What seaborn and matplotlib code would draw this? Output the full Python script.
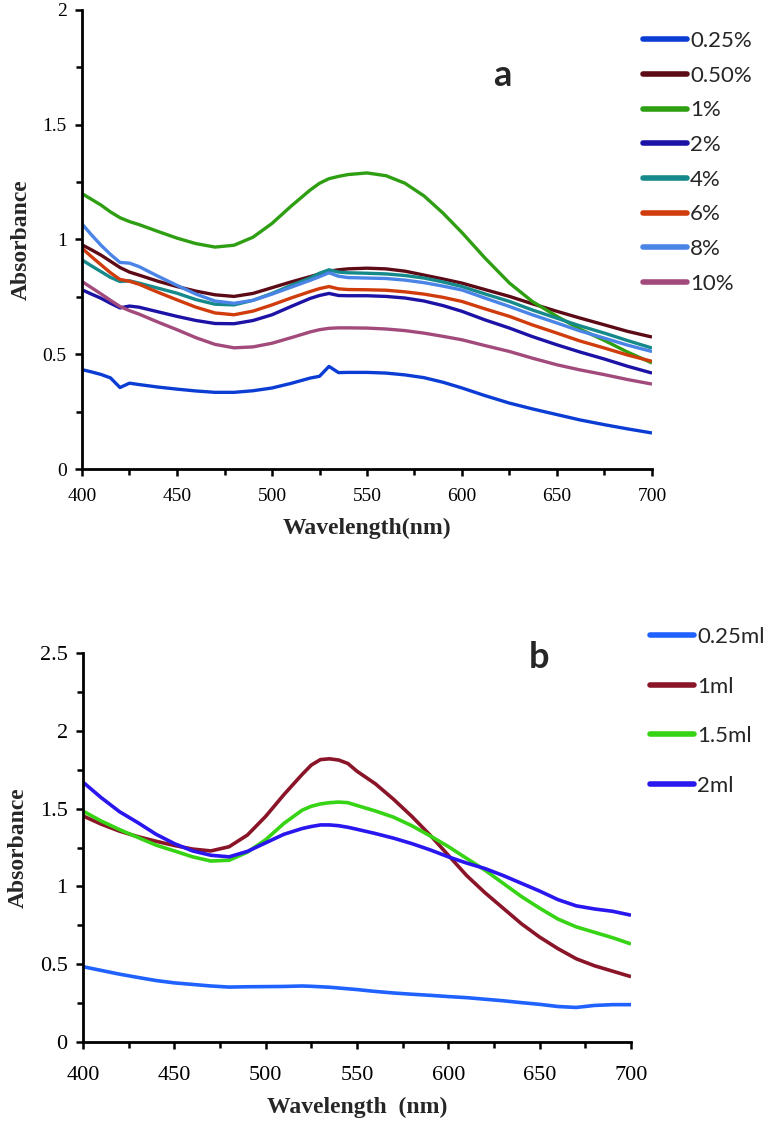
import numpy as np
import pandas as pd
import matplotlib
matplotlib.use("Agg")
import matplotlib.pyplot as plt
from matplotlib.ticker import MultipleLocator
import seaborn as sns

# ---------------- data: panel a ----------------
wl_a = [400, 405, 410, 415, 420, 425, 430, 440, 450, 460, 470, 480, 490, 500, 510, 520, 525,
        530, 535, 540, 550, 560, 570, 580, 590, 600, 612, 625, 637, 650, 662, 675, 687, 700]
a_025 = [.433, .423, .412, .397, .355, .374, .368, .357, .348, .34, .334, .334, .341, .353, .373, .396, .404,
         .447, .42, .421, .421, .418, .41, .398, .378, .353, .32, .287, .262, .237, .214, .193, .175, .157]
a_050 = [.977, .955, .932, .905, .878, .858, .845, .818, .795, .775, .759, .752, .765, .79, .815, .838, .85,
         .862, .868, .872, .875, .872, .862, .845, .828, .81, .782, .752, .72, .687, .658, .628, .6, .575]
a_1 = [1.20, 1.175, 1.15, 1.12, 1.095, 1.078, 1.065, 1.035, 1.006, .982, .967, .975, 1.01, 1.07, 1.145, 1.215, 1.245,
       1.265, 1.275, 1.283, 1.29, 1.278, 1.245, 1.19, 1.115, 1.03, .92, .81, .73, .665, .61, .56, .51, .462]
a_2 = [.781, .762, .744, .722, .702, .71, .705, .685, .665, .647, .634, .633, .647, .672, .708, .743, .756,
       .765, .756, .755, .755, .752, .745, .732, .712, .687, .65, .614, .577, .541, .51, .479, .448, .418]
a_4 = [.911, .885, .86, .835, .817, .82, .81, .788, .766, .738, .718, .715, .735, .765, .8, .832, .853,
       .868, .858, .855, .853, .85, .843, .832, .815, .795, .763, .73, .693, .657, .624, .592, .56, .527]
a_6 = [.962, .925, .89, .855, .826, .818, .805, .77, .737, .705, .68, .672, .688, .715, .745, .773, .786,
       .795, .785, .782, .781, .779, .772, .762, .748, .73, .698, .665, .628, .592, .558, .527, .497, .469]
a_8 = [1.068, 1.02, .975, .935, .9, .897, .882, .84, .8, .762, .732, .722, .735, .762, .792, .822, .838,
       .855, .84, .834, .832, .83, .823, .812, .797, .78, .745, .708, .672, .636, .602, .57, .54, .512]
a_10 = [.817, .79, .763, .735, .708, .69, .675, .64, .607, .572, .543, .528, .532, .548, .572, .597, .607,
        .613, .615, .615, .614, .61, .603, .592, .578, .563, .538, .512, .483, .454, .432, .411, .39, .37]
labels_a = ["0.25%", "0.50%", "1%", "2%", "4%", "6%", "8%", "10%"]
colors_a = ["#0b3dd4", "#5c0a16", "#2e9e12", "#1c12a6", "#168a8a", "#d03c0c", "#4a84e6", "#a24a7c"]

# ---------------- data: panel b ----------------
wl_b = [400, 410, 420, 430, 440, 450, 460, 470, 480, 490, 500, 510, 520, 525, 530, 535, 540, 545,
        550, 560, 570, 580, 590, 600, 610, 620, 630, 640, 650, 660, 670, 680, 690, 700]
b_025 = [.484, .46, .436, .415, .395, .38, .37, .36, .353, .355, .356, .357, .36, .358, .355, .352, .347, .342,
         .337, .325, .315, .307, .30, .292, .285, .275, .265, .253, .242, .228, .222, .235, .24, .24]
b_1 = [1.453, 1.40, 1.355, 1.32, 1.29, 1.263, 1.24, 1.228, 1.255, 1.33, 1.45, 1.59, 1.72, 1.78, 1.815, 1.82, 1.812, 1.79,
       1.74, 1.66, 1.56, 1.45, 1.33, 1.20, 1.07, .96, .86, .76, .674, .60, .535, .49, .455, .42]
b_15 = [1.484, 1.42, 1.365, 1.315, 1.265, 1.228, 1.19, 1.163, 1.168, 1.22, 1.30, 1.405, 1.49, 1.515, 1.53, 1.538, 1.542, 1.538,
        1.52, 1.485, 1.445, 1.39, 1.325, 1.256, 1.18, 1.105, 1.02, .935, .86, .79, .74, .705, .67, .63]
b_2 = [1.67, 1.57, 1.48, 1.41, 1.335, 1.275, 1.228, 1.20, 1.19, 1.225, 1.28, 1.335, 1.372, 1.385, 1.395, 1.395, 1.39, 1.38,
       1.367, 1.34, 1.31, 1.275, 1.235, 1.19, 1.15, 1.115, 1.07, 1.02, .97, .915, .875, .855, .84, .815]
labels_b = ["0.25ml", "1ml", "1.5ml", "2ml"]
colors_b = ["#1f62ff", "#8a1428", "#36d414", "#2a16ee"]

x_ticks = [400, 450, 500, 550, 600, 650, 700]

df_a = pd.DataFrame({
    "Wavelength": wl_a * len(labels_a),
    "Absorbance": a_025 + a_050 + a_1 + a_2 + a_4 + a_6 + a_8 + a_10,
    "Sample": sum([[l] * len(wl_a) for l in labels_a], []),
})
df_b = pd.DataFrame({
    "Wavelength": wl_b * len(labels_b),
    "Absorbance": b_025 + b_1 + b_15 + b_2,
    "Sample": sum([[l] * len(wl_b) for l in labels_b], []),
})

sns.set_theme(style="ticks")
plt.rcParams["font.family"] = ["Liberation Serif", "DejaVu Sans"]

fig = plt.figure(figsize=(7.74, 11.22), dpi=100)
W, H = 774, 1122

def axes_px(l, r, t, b):
    return fig.add_axes([l / W, 1 - b / H, (r - l) / W, (b - t) / H])

ax_a = axes_px(82, 652, 10, 469)
ax_b = axes_px(83, 631, 653, 1042)

sns.lineplot(data=df_a, x="Wavelength", y="Absorbance", hue="Sample",
             hue_order=labels_a, palette=colors_a, ax=ax_a, linewidth=2.4,
             sort=True, estimator=None)
sns.lineplot(data=df_b, x="Wavelength", y="Absorbance", hue="Sample",
             hue_order=labels_b, palette=colors_b, ax=ax_b, linewidth=2.6,
             sort=True, estimator=None)
for ax in (ax_a, ax_b):
    for ln in ax.get_lines():
        ln.set_solid_joinstyle("round")
        ln.set_solid_capstyle("butt")

def style_axis(ax, ymax, tick_fs, xlabel, pad):
    ax.set_xlim(400, 700)
    ax.set_ylim(0, ymax)
    ax.set_xticks(x_ticks)
    ax.xaxis.set_minor_locator(MultipleLocator(25))
    ax.yaxis.set_major_locator(MultipleLocator(0.5))
    ax.yaxis.set_minor_locator(MultipleLocator(0.25))
    ax.set_yticklabels([f"{v:g}" for v in ax.get_yticks()])
    for s in ["top", "right"]:
        ax.spines[s].set_visible(False)
    for s in ["left", "bottom"]:
        ax.spines[s].set_linewidth(2.0)
        ax.spines[s].set_color("black")
    ax.tick_params(which="major", direction="out", length=5, width=1.8,
                   labelsize=tick_fs, colors="black")
    ax.tick_params(axis="x", which="major", pad=pad)
    ax.tick_params(axis="y", which="major", pad=6)
    ax.tick_params(which="minor", direction="out", length=4, width=1.8, colors="black")
    ax.set_xlabel(xlabel, fontsize=17, fontweight="bold", labelpad=9)
    ax.set_ylabel("Absorbance", fontsize=17, fontweight="bold", labelpad=8)
    ax.set_facecolor("white")
    ax.get_legend().remove()

style_axis(ax_a, 2, 14, "Wavelength(nm)", 9)
style_axis(ax_b, 2.5, 16, "Wavelength  (nm)", 12)

legend_font = {"family": ["Lato", "DejaVu Sans"], "size": 16}

h_a = [plt.Line2D([], [], color=c, lw=4) for c in colors_a]
fig.legend(h_a, labels_a, loc="upper left", bbox_to_anchor=(643 / W, 1 - 31 / H),
           frameon=False, prop=legend_font, handlelength=1.98, handletextpad=0.14,
           labelspacing=0.66, borderaxespad=0, borderpad=0)
h_b = [plt.Line2D([], [], color=c, lw=4) for c in colors_b]
fig.legend(h_b, labels_b, loc="upper left", bbox_to_anchor=(650 / W, 1 - 627 / H),
           frameon=False, prop=legend_font, handlelength=1.98, handletextpad=0.14,
           labelspacing=1.33, borderaxespad=0, borderpad=0)

fig.text(502 / W, 1 - 75 / H, "a", fontsize=26, fontweight="bold",
         family=["Lato", "DejaVu Sans"], ha="center", va="center")
fig.text(539 / W, 1 - 657 / H, "b", fontsize=26, fontweight="bold",
         family=["Lato", "DejaVu Sans"], ha="center", va="center")

fig.savefig("out.png", dpi=100, facecolor="white")
